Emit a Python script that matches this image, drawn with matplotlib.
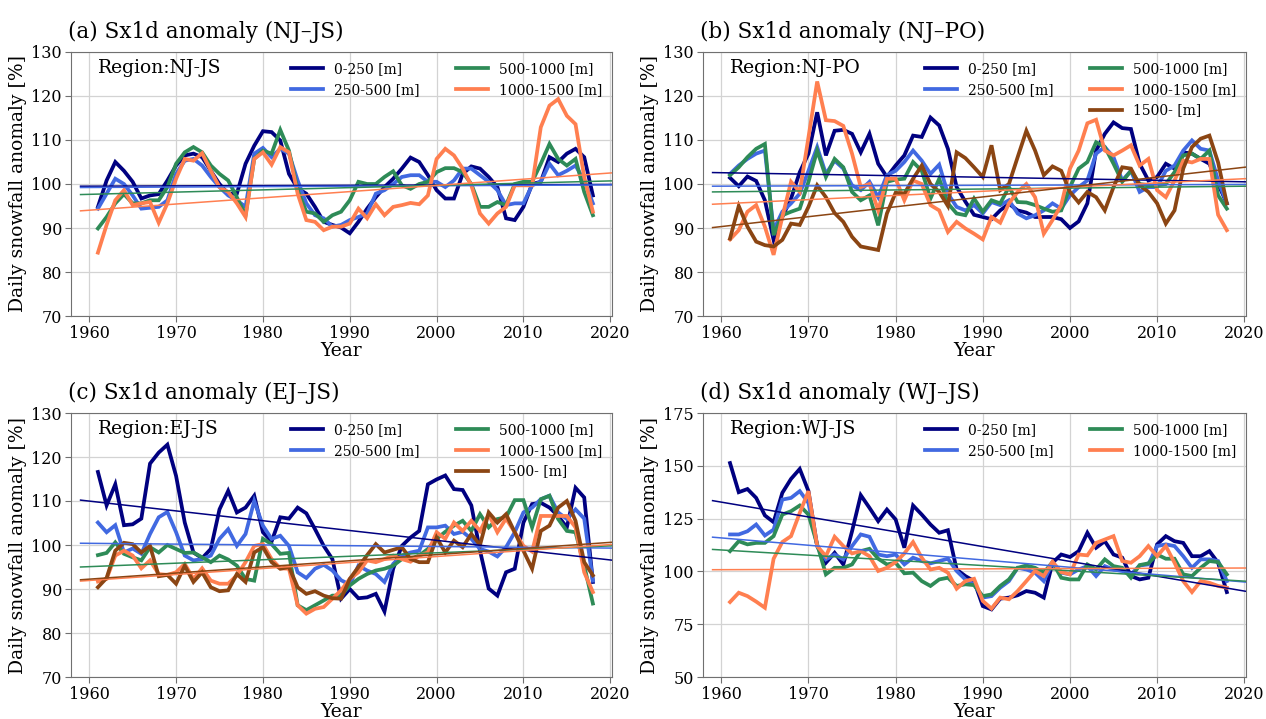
import numpy as np
import matplotlib
matplotlib.use("Agg")
import matplotlib.pyplot as plt
from matplotlib.lines import Line2D

plt.rcParams['font.family'] = ['DejaVu Serif']

years = np.arange(1961, 2019)
labels = ['0-250 [m]', '250-500 [m]', '500-1000 [m]', '1000-1500 [m]', '1500- [m]']
colors = ['#000080', '#4169E1', '#2E8B57', '#FF7F50', '#8B4513']
trend_x = [1959, 2020]

# ---------------- (a) NJ-JS ----------------
a_0_250 = [94.8, 100.8, 105, 103, 100.5, 96.7, 97.4, 97.7, 100.8, 104.2,
           106.5, 106.9, 106.1, 103, 100, 97.8, 97.8, 104.6, 108.7, 112,
           111.8, 109.9, 102.3, 99, 97.8, 94.8, 91.4, 90.7, 90.1, 88.8,
           91.4, 94.4, 97, 99.3, 101.2, 103.5, 106, 105, 102, 98.6,
           96.7, 96.7, 102.3, 104, 103.5, 101.6, 99.3, 92.2, 91.8, 94.8,
           100, 100.5, 106.1, 105, 106.9, 108, 106.1, 97.4]
a_250_500 = [94.4, 97.8, 101.2, 100, 97.4, 94.4, 94.6, 94.8, 96.3, 102.3,
             105.3, 105.7, 104.2, 101.6, 99.3, 97.4, 96.3, 94.8, 106.9, 108.2,
             106.1, 108, 106.9, 100.8, 95.6, 92.9, 92.2, 90.3, 90.7, 91.8,
             92.5, 93.3, 97.8, 98.6, 100, 101.6, 102, 102, 100.5, 100.5,
             99.3, 100.8, 103.5, 103.5, 102, 100.5, 98.6, 95.2, 95.6, 95.6,
             99.7, 100.5, 104.6, 102, 103, 104.2, 100.8, 95.6]
a_500_1000 = [89.9, 92.5, 95.6, 97.7, 95.6, 95.6, 96.3, 96.3, 99.3, 104.6,
              107.2, 108.4, 107.2, 104.2, 102.3, 100.8, 97, 92.9, 105.7, 107.6,
              106.9, 112.3, 107.6, 98.6, 93.7, 93.3, 91.4, 92.9, 93.7, 96.3,
              100.5, 100, 100, 101.6, 102.9, 99.7, 98.9, 100, 100.5, 102.7,
              103.6, 103.6, 102.7, 100, 94.8, 94.8, 95.9, 95.2, 100, 100.5,
              100.5, 104.6, 109.1, 105.7, 104.2, 105.7, 98.2, 92.9]
a_1000_1500 = [84.4, 90.7, 96.3, 98.6, 95.2, 95.6, 95.9, 91.2, 95.6, 101.2,
               105.7, 105.3, 107, 103, 99.3, 98.2, 95.6, 92.5, 105.7, 107.2,
               104.4, 108.4, 107.2, 97.8, 91.8, 91.4, 89.5, 90.3, 90.3, 91,
               94.4, 92.2, 95.4, 92.9, 94.8, 95.2, 95.7, 95.4, 97.4, 105.7,
               108, 106.5, 103.5, 99.7, 93.3, 91, 93.3, 94.8, 99.7, 99.7,
               99.7, 112.9, 117.8, 119.3, 115.5, 113.6, 101.6, 93.7]
a_trend = [(99.5, 99.9), (99.2, 99.8), (97.6, 100.7), (93.9, 102.5)]

# ---------------- (b) NJ-PO ----------------
b_0_250 = [101.4, 99.5, 101.7, 100.7, 96.3, 87.3, 92.5, 96.7, 102.7, 106.9,
           116.3, 106.5, 112.1, 112.3, 111.4, 107.2, 111.4, 104.6, 101.6, 104.2,
           106.5, 111, 110.7, 115.1, 113.3, 108, 99.3, 96, 93, 92.5,
           92, 94, 95.5, 94, 93.5, 92.5, 92.5, 92.5, 92, 90,
           91.5, 95.6, 107.6, 111.4, 114, 112.7, 112.5, 104.6, 100.8, 101.6,
           104.6, 103.5, 107.2, 106.9, 105.7, 104.6, 100, 95.6]
b_250_500 = [102.3, 104.2, 105.7, 106.9, 107.6, 89.5, 93.7, 95.6, 97.8, 103,
             108.4, 102.3, 105.3, 103.5, 99.7, 98.6, 100.5, 97, 102, 103,
             105, 107.6, 105.3, 102.3, 104.4, 97.8, 94.8, 94, 95.2, 93.3,
             95.9, 95.2, 96.3, 93.3, 92.2, 92.9, 94, 95.6, 94.4, 97.4,
             99.3, 100.8, 106.9, 108.4, 106.1, 100.8, 103, 98.2, 99.3, 99.3,
             103, 104.2, 107.6, 109.9, 108, 107.6, 100.8, 95.6]
b_500_1000 = [102, 103.8, 106.1, 108, 109.1, 88.4, 92.9, 93.7, 94.4, 100.5,
              107.6, 101.6, 105.7, 103.8, 98.2, 96.3, 97.4, 90.6, 100.5, 101,
              101.2, 105, 103, 96.7, 101.2, 95.6, 93.3, 92.9, 96.7, 93.7,
              96.3, 95.6, 99.3, 95.9, 95.8, 95.2, 94.4, 93.7, 94, 99.3,
              103.5, 105, 109.5, 108.4, 104.6, 100.5, 103, 100, 99.7, 99.7,
              100, 102.7, 106.5, 106.9, 105.7, 107.6, 97.4, 94.4]
b_1000_1500 = [87.4, 89.5, 93.7, 95.2, 90.3, 83.9, 92.5, 100.5, 98.2, 110.6,
               123.3, 114.5, 114.3, 113.2, 106.9, 99.3, 100, 94, 101.2, 101.2,
               96.3, 100.8, 100, 95.2, 94, 89.1, 91.4, 89.9, 88.7, 87.4,
               92.5, 91.2, 95.6, 98.2, 100, 97, 88.7, 91.8, 95.2, 103.5,
               107.6, 113.8, 114.6, 107.6, 106.5, 107.6, 108.8, 104.2, 105.7, 98.6,
               97, 100.8, 105.3, 104.9, 105.7, 105.7, 93, 89.5]
b_1500 = [87.6, 95, 90.3, 86.9, 86.1, 85.8, 87.3, 91, 90.7, 94.8,
          99.7, 97, 93.4, 91.4, 88, 85.8, 85.4, 85, 93.3, 98,
          97.8, 101.2, 104.2, 100, 98.2, 95, 107.2, 105.9, 103.8, 101.6,
          108.8, 98.6, 100, 106.1, 112.1, 107.6, 102, 104, 103, 98.2,
          95.8, 98.2, 97, 94, 99.3, 103.8, 103.5, 99.7, 98.2, 95.6,
          91, 94, 103.5, 108.4, 110.3, 111, 104.9, 95.6]
b_trend = [(102.6, 100.5), (99.5, 99.9), (98.2, 99.5), (95.4, 101.2), (90.1, 103.8)]

# ---------------- (c) EJ-JS ----------------
c_0_250 = [116.6, 109, 113.8, 104.5, 104.7, 106, 118.5, 121, 122.8, 115.7,
           105.1, 98.3, 97, 99.1, 108.1, 112.3, 107.4, 108.5, 111.2, 102.9,
           100.8, 106.3, 106, 108.5, 107.2, 103.6, 99.8, 96.8, 87.8, 90,
           87.9, 88.1, 88.9, 84.9, 94.6, 99.8, 101.7, 103.2, 113.8, 114.9,
           115.8, 112.7, 112.5, 109, 98.7, 90.1, 88.5, 93.8, 94.6, 105.1,
           109.3, 109.6, 108.5, 106.6, 104, 113, 110.8, 91.6]
c_250_500 = [105.1, 102.9, 104.5, 98.3, 99.2, 98, 102.5, 106.3, 107.5, 102.9,
             97.6, 96.5, 96.8, 97.6, 101.4, 103.6, 99.8, 102.5, 110, 104.4,
             101.4, 102.1, 99.8, 93.8, 92.5, 94.6, 95.5, 94.2, 92, 91,
             95.3, 94.2, 93.4, 91.6, 95.7, 97.6, 98.3, 98.7, 104, 104,
             104.4, 102.5, 103, 101.4, 99.1, 98.5, 97.4, 99.5, 102.9, 107.4,
             108.5, 110.4, 111.2, 107.4, 105.9, 108.1, 106, 91.9]
c_500_1000 = [97.7, 98.2, 100.6, 98, 97.2, 96.5, 99.5, 98.3, 100, 99.1,
              98.2, 98.3, 97.2, 96.1, 97.6, 96.7, 95.3, 92.3, 91.9, 101.4,
              100.2, 98, 98.2, 86.3, 85.2, 86.3, 87.4, 88.5, 88.5, 90.8,
              92.3, 93.4, 94.2, 94.6, 95.3, 96.8, 96.8, 97.6, 99.1, 101.4,
              103, 104.4, 105.5, 103.2, 107, 104, 105.9, 106.3, 110.2, 110.2,
              104, 110.4, 111.2, 105.9, 103.2, 102.9, 95.3, 86.7]
c_1000_1500 = [91.7, 92.3, 97.6, 98.7, 97.6, 94.7, 96.5, 93.4, 93.2, 93.8,
               95.7, 92.3, 94.7, 91.9, 91.2, 91.2, 93.1, 96.1, 99.8, 100.2,
               96.8, 94.7, 94.6, 86.3, 84.4, 85.5, 85.9, 87.8, 89.7, 92.3,
               93.8, 96.5, 96.1, 96.8, 97.6, 96.8, 96.2, 97.6, 98.3, 102.9,
               101.4, 105.1, 103.2, 105.5, 103.2, 107, 102.9, 106, 102.9, 99.8,
               98.5, 106.6, 106.6, 106.6, 106.6, 104, 93.8, 89.3]
c_1500 = [90.4, 92.5, 98.7, 100.5, 100.2, 98.3, 99.8, 92.9, 93.2, 91.2,
          95.3, 91.6, 93.8, 90.4, 89.5, 89.7, 93.4, 91.6, 98.3, 99.5,
          96.1, 94.6, 95, 90.4, 88.9, 89.5, 88.5, 87.9, 87.8, 92.3,
          95, 97.7, 100.2, 98.3, 98.9, 99.5, 96.8, 96.1, 96.1, 101.7,
          98.3, 101, 99.5, 102.5, 100, 107.4, 105.1, 107, 102.9, 98.7,
          94.6, 103.2, 104.4, 108.5, 110, 105.5, 96.1, 93.1]
c_trend = [(110.2, 96.6), (100.4, 99.3), (95.0, 99.8), (91.8, 100.1), (92.1, 100.6)]

# ---------------- (d) WJ-JS ----------------
d_0_250 = [151.3, 137.5, 139, 134.8, 126.5, 123.3, 137.2, 143.8, 148.5, 138,
           112, 104.1, 108.8, 103.3, 119, 136.1, 130.1, 123.8, 129.3, 124.6,
           111.2, 131.2, 126.9, 122.2, 118.3, 119.5, 100.9, 97.8, 95.4, 83.6,
           82, 87.1, 87.6, 88.7, 90.7, 89.9, 87.6, 104.1, 108, 106.8,
           109.6, 118.3, 111.2, 114.3, 108, 106.5, 97.8, 96.2, 97, 112.8,
           116.7, 114.3, 113.5, 107.2, 107.2, 109.6, 104.1, 90.2]
d_250_500 = [117.5, 117.5, 119, 122.2, 117, 119.8, 134, 134.8, 138, 132.4,
             112, 105.7, 108, 105.7, 112, 117.5, 116.4, 108, 107.2, 108,
             103.3, 106.5, 104.9, 103.8, 104.9, 106, 100.2, 96.2, 93.9, 87.6,
             88.3, 92.3, 95.4, 101.7, 100.9, 99.4, 95.4, 104.1, 99.4, 98.6,
             100.9, 102.5, 97.8, 102.5, 100.9, 100.2, 98.6, 102.8, 103.3, 112,
             112.8, 112, 107.2, 101.7, 105.7, 105.7, 104.9, 95.4]
d_500_1000 = [109.6, 114.3, 112.8, 113.5, 113.5, 116.7, 126.9, 128.5, 131.2, 126.9,
              112.8, 98.6, 101.7, 101.7, 103.3, 109.6, 110.7, 106, 103.3, 104.1,
              99.1, 99.4, 95.4, 93.1, 96.2, 97, 93.1, 93.9, 93.5, 88.3,
              89.1, 93.1, 96.2, 101.7, 102.8, 101.7, 99.4, 104.4, 97, 96.2,
              96.2, 103.3, 100.9, 105.7, 102.5, 101.7, 97, 103, 103.8, 108,
              106, 106, 98.6, 97.8, 101.7, 104.9, 104.4, 98.6]
d_1000_1500 = [85.5, 89.9, 88.3, 85.7, 82.8, 106, 113.9, 116.7, 127.7, 138,
               112, 107.2, 116.4, 112, 108.5, 109.6, 107.2, 100.2, 101.7, 104.4,
               108.5, 113.9, 106.5, 100.9, 101.7, 99.4, 91.8, 95.4, 96.5, 86,
               82.4, 87.6, 86.8, 90.7, 95.4, 100.2, 97.8, 104.6, 99.7, 98.6,
               108, 107.6, 113.5, 115.1, 116.7, 104.9, 104.1, 107.2, 112, 107.2,
               112, 104.1, 95.4, 90.2, 95.4, 94.6, 93.1, 92.3]
d_trend = [(133.5, 90.7), (116.2, 95.0), (110.4, 95.4), (100.8, 101.6)]

titles = ['(a) Sx1d anomaly (NJ\u2013JS)', '(b) Sx1d anomaly (NJ\u2013PO)',
          '(c) Sx1d anomaly (EJ\u2013JS)', '(d) Sx1d anomaly (WJ\u2013JS)']
regions = ['Region:NJ-JS', 'Region:NJ-PO', 'Region:EJ-JS', 'Region:WJ-JS']
series = [[a_0_250, a_250_500, a_500_1000, a_1000_1500],
          [b_0_250, b_250_500, b_500_1000, b_1000_1500, b_1500],
          [c_0_250, c_250_500, c_500_1000, c_1000_1500, c_1500],
          [d_0_250, d_250_500, d_500_1000, d_1000_1500]]
trends = [a_trend, b_trend, c_trend, d_trend]
ylims = [(70, 130), (70, 130), (70, 130), (50, 175)]
yticks = [np.arange(70, 131, 10)] * 3 + [np.arange(50, 176, 25)]

W, H = 1266, 719
fig = plt.figure(figsize=(W / 100, H / 100), dpi=100)
boxes = [(71, 52, 612, 316), (703, 52, 1246, 316),
         (71, 413, 612, 677), (703, 413, 1246, 677)]

for i in range(4):
    l, t, r, b = boxes[i]
    ax = fig.add_axes([l / W, 1 - b / H, (r - l) / W, (b - t) / H])
    handles = []
    for j, vals in enumerate(series[i]):
        h, = ax.plot(years, vals, color=colors[j], lw=2.7, label=labels[j],
                     solid_joinstyle='miter', zorder=3)
        handles.append(h)
    for j, (v0, v1) in enumerate(trends[i]):
        slope = (v1 - v0) / (trend_x[1] - trend_x[0])
        xs = [trend_x[0], trend_x[1] + 1]
        ys = [v0, v1 + slope]
        ax.plot(xs, ys, color=colors[j], lw=1.1, zorder=4)
    ax.set_xlim(1957.9, 2020.2)
    ax.set_ylim(*ylims[i])
    ax.set_xticks(np.arange(1960, 2021, 10))
    ax.set_yticks(yticks[i])
    ax.grid(True, color='#d3d3d3', lw=0.9, zorder=0)
    ax.set_axisbelow(True)
    for s in ax.spines.values():
        s.set_color('#707070')
    ax.tick_params(labelsize=11.5, color='#707070', length=4, pad=2.5)
    ax.set_xlabel('Year', fontsize=13.5, labelpad=0)
    ax.set_ylabel('Daily snowfall anomaly [%]', fontsize=13.5, labelpad=3)
    ax.set_title(titles[i], loc='left', fontsize=15.5, pad=10, x=-0.005)
    ax.text(0.05, 0.94, regions[i], transform=ax.transAxes, va='center',
            ha='left', fontsize=13.5, zorder=6)
    if len(handles) == 5:
        blank = Line2D([], [], linestyle='none', marker=None)
        leg_h = [handles[0], handles[1], blank, handles[2], handles[3], handles[4]]
        leg_l = [labels[0], labels[1], ' ', labels[2], labels[3], labels[4]]
    else:
        leg_h = handles
        leg_l = labels[:4]
    ax.legend(leg_h, leg_l, ncol=2, loc='upper right', frameon=False,
              fontsize=10, handlelength=2.3, columnspacing=2.6,
              borderaxespad=0.3)

fig.savefig('out.png', dpi=100)
